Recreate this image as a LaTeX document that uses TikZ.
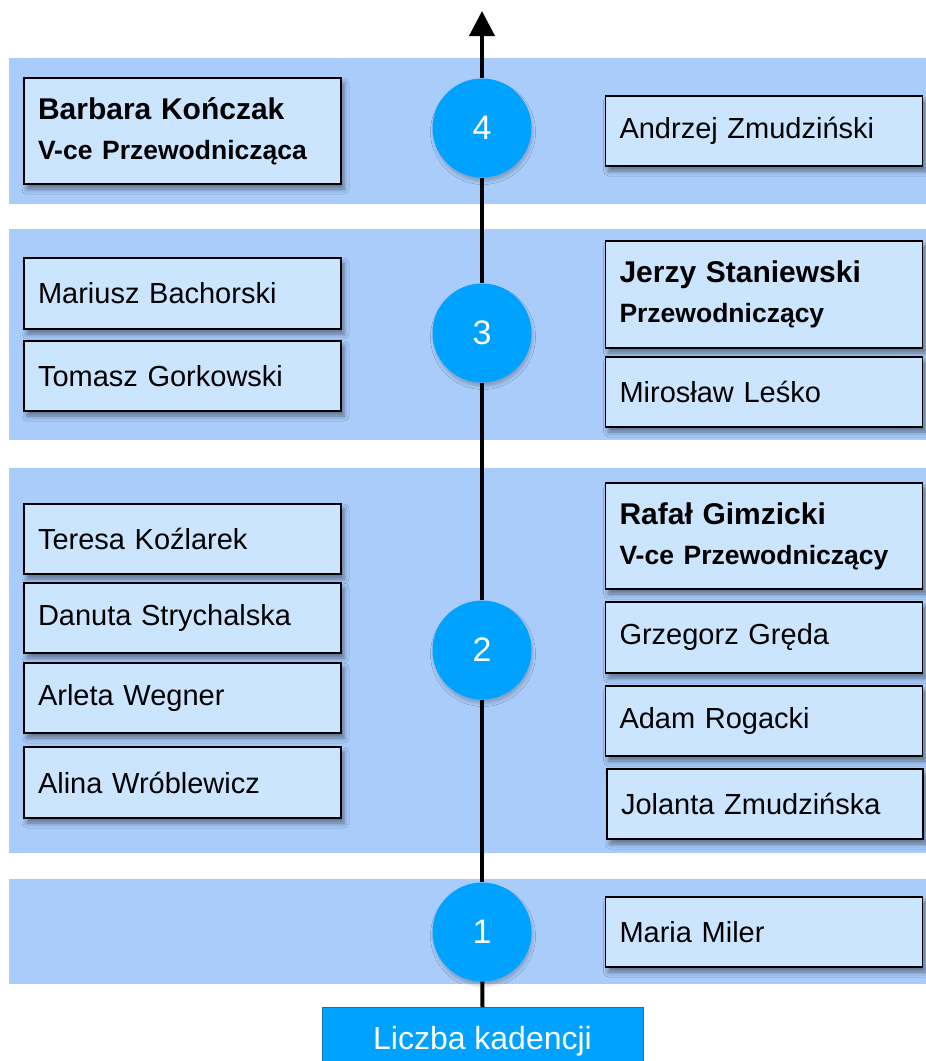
\documentclass[tikz,border=0pt]{standalone}
\usepackage{fontspec}
\setmainfont{Liberation Sans}
\usetikzlibrary{arrows.meta,shadows.blur}
\definecolor{bandc}{HTML}{A9CCFB}
\definecolor{boxc}{HTML}{CCE5FF}
\definecolor{circc}{HTML}{00A2FF}
\definecolor{licborder}{HTML}{1F6FA8}
\tikzset{
  band/.style={fill=bandc, draw=none},
  pbox/.style={rectangle, draw=black, line width=1.3pt, fill=boxc,
    text width=289pt, inner xsep=14pt, inner ysep=0pt, align=left,
    minimum height=70pt, font=\fontsize{29}{40}\selectfont,
    blur shadow={shadow xshift=3pt, shadow yshift=-5pt, shadow blur radius=5pt, shadow opacity=45}},
  kcirc/.style={circle, fill=circc, draw=none, minimum size=99pt, inner sep=0pt,
    text=white, font=\fontsize{34}{40}\selectfont,
    blur shadow={shadow xshift=1pt, shadow yshift=-4pt, shadow blur radius=3pt, shadow opacity=22}},
  axis/.style={line width=4pt, draw=black}
}
\newcommand{\subttl}[1]{{\fontsize{26.5}{40}\selectfont\bfseries #1}}
\newcommand{\ttl}[1]{{\fontsize{30}{40}\selectfont\bfseries #1}}
\begin{document}
\begin{tikzpicture}[x=1pt,y=-1pt]
\useasboundingbox (0,0) rectangle (926,1061);
% bands
\fill[band] (9,58) rectangle (926,204);
\fill[band] (9,229) rectangle (926,440);
\fill[band] (9,468) rectangle (926,853);
\fill[band] (9,879) rectangle (926,984);
% circles
\node[kcirc] (c4) at (482,128) {4};
\node[kcirc] (c3) at (482,333) {3};
\node[kcirc] (c2) at (482,650) {2};
\node[kcirc] (c1) at (482,932) {1};
% base box
\node[rectangle, fill=circc, draw=licborder, line width=1pt, minimum width=321pt, minimum height=68pt,
  text=white, font=\fontsize{32}{36}\selectfont, anchor=north] (lk) at (482.5,1007) {\raisebox{-4pt}{Liczba kadencji}};
\coordinate (top) at (482,11);
% axis
\draw[axis] (lk.north) -- (c1);
\draw[axis] (c1) -- (c2);
\draw[axis] (c2) -- (c3);
\draw[axis] (c3) -- (c4);
\draw[axis, -{Triangle[length=25pt,width=25pt]}] (c4) -- (top);
% left boxes
\node[pbox, minimum height=106pt] (bk) at (182.5,131) {\ttl{Barbara Kończak}\\\subttl{V-ce Przewodnicząca}};
\node[pbox, minimum height=71pt] (mb) at (182.5,293.5) {Mariusz Bachorski};
\node[pbox] (tg) at (182.5,376) {Tomasz Gorkowski};
\node[pbox] (tk) at (182.5,539) {Teresa Koźlarek};
\node[pbox] (ds) at (182.5,618) {Danuta Strychalska};
\node[pbox] (aw) at (182.5,698) {Arleta Wegner};
\node[pbox, minimum height=71pt] (al) at (182.5,782.5) {Alina Wróblewicz};
% right boxes
\node[pbox] (az) at (764,131) {Andrzej Zmudziński};
\node[pbox, minimum height=107pt] (js) at (764,294.5) {\ttl{Jerzy Staniewski}\\\subttl{Przewodniczący}};
\node[pbox] (ml) at (764,392) {Mirosław Leśko};
\node[pbox, minimum height=106pt] (rg) at (764,536) {\ttl{Rafał Gimzicki}\\\subttl{V-ce Przewodniczący}};
\node[pbox, minimum height=71pt] (gg) at (764,637.5) {Grzegorz Gręda};
\node[pbox] (ar) at (764,721) {Adam Rogacki};
\node[pbox, text width=288pt] (jz) at (765,804) {Jolanta Zmudzińska};
\node[pbox] (mm) at (764,932) {Maria Miler};
\end{tikzpicture}
\end{document}
